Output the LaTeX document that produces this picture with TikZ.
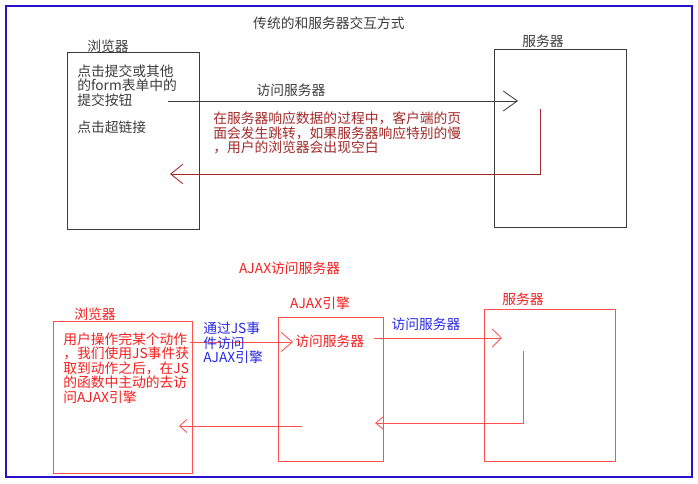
\documentclass[tikz,border=0pt]{standalone}
\usepackage{fontspec}
\setmainfont{Noto Sans CJK SC}
\usetikzlibrary{arrows.meta}
\definecolor{xFrame}{RGB}{40,20,200}
\definecolor{xGray}{RGB}{60,60,60}
\definecolor{xDark}{RGB}{160,40,40}
\definecolor{xRed}{RGB}{255,80,80}
\definecolor{xRedT}{RGB}{245,30,30}
\definecolor{xBlue}{RGB}{40,40,230}
\tikzset{
  txt/.style={font=\fontsize{9.8}{10.4}\selectfont, inner sep=0pt},
  blk/.style={txt, align=left, anchor=west},
  panel/.style={draw=xGray, line width=0.6pt, inner sep=0pt},
  rpanel/.style={draw=xRed, line width=0.6pt, inner sep=0pt},
  go/.style={-{Straight Barb[length=3.5mm, width=5mm]}, line width=0.6pt},
  back/.style={-{Straight Barb[length=3mm, width=4.8mm]}, line width=0.6pt},
}

\begin{document}
\begin{tikzpicture}
    \useasboundingbox (0,0) rectangle (17.45,-12.1);
    \draw[xFrame, line width=1.4pt] (0.15,-0.15) rectangle (17.3,-11.925);
    \node[txt, xGray] (title) at (8.225,-0.575) {传统的和服务器交互方式};

    % traditional request
    \node[panel, minimum width=3.3cm, minimum height=4.425cm] (br) at (3.325,-3.5125) {};
    \node[txt, xGray] (brl) at (2.7,-1.15) {浏览器};
    \node[blk, xGray] (brt) at (1.925,-2.475) {点击提交或其他\\的form表单中的\\提交按钮\\[9pt]点击超链接};
    \node[panel, minimum width=3.3cm, minimum height=4.45cm] (sv) at (14.0,-3.45) {};
    \node[txt, xGray] (svl) at (13.575,-1.025) {服务器};
    \coordinate (brout) at (4.2,-2.525);
    \coordinate (svin) at (12.95,-2.525);
    \coordinate (svout) at (13.5,-2.725);
    \coordinate (brin) at (4.25,-4.35);
    \draw[go, xGray] (brout) -- (svin);
    \node[txt, xGray] (ask) at (7.275,-2.25) {访问服务器};
    \draw[back, xDark] (svout) |- (brin);
    \node[blk, xDark] (wait) at (5.325,-3.325)
      {在服务器响应数据的过程中，客户端的页\\面会发生跳转，如果服务器响应特别的慢\\，用户的浏览器会出现空白};

    % ajax request
    \node[txt, xRedT] (sub) at (7.24,-6.7) {AJAX访问服务器};
    \node[rpanel, minimum width=3.475cm, minimum height=3.8cm] (br2) at (3.0625,-9.925) {};
    \node[txt, xRedT] (br2l) at (2.375,-7.85) {浏览器};
    \node[blk, xRedT] (br2t) at (1.575,-9.2)
      {用户操作完某个动作\\，我们使用JS事件获\\取到动作之后，在JS\\的函数中主动的去访\\问AJAX引擎};
    \node[rpanel, minimum width=2.625cm, minimum height=3.6cm] (aj) at (8.2625,-9.725) {};
    \node[txt, xRedT] (ajl) at (8.0,-7.575) {AJAX引擎};
    \node[blk, xRedT] (ajt) at (7.375,-8.525) {访问服务器};
    \node[rpanel, minimum width=3.275cm, minimum height=3.8cm] (sv2) at (13.7375,-9.625) {};
    \node[txt, xRedT] (sv2l) at (13.075,-7.475) {服务器};

    \coordinate (br2out) at (4.75,-8.55);
    \coordinate (ajin) at (7.325,-8.55);
    \coordinate (ajout) at (9.35,-8.45);
    \coordinate (sv2in) at (12.55,-8.45);
    \coordinate (sv2out) at (13.075,-8.775);
    \coordinate (ajback) at (9.375,-10.575);
    \coordinate (ajret) at (7.55,-10.65);
    \coordinate (br2in) at (4.475,-10.65);
    \draw[go, xRed, -{Straight Barb[length=2.8mm, width=4.8mm]}] (br2out) -- (ajin);
    \node[blk, xBlue] (js) at (5.075,-8.575) {通过JS事\\件访问\\AJAX引擎};
    \draw[go, xRed, -{Straight Barb[length=2.3mm, width=4.5mm]}] (ajout) -- (sv2in);
    \node[txt, xBlue] (ask2) at (10.65,-8.1) {访问服务器};
    \draw[back, xRed, -{Straight Barb[length=2mm, width=3.3mm]}] (sv2out) |- (ajback);
    \draw[back, xRed, -{Straight Barb[length=1.8mm, width=3.3mm]}] (ajret) -- (br2in);
  \end{tikzpicture}
\end{document}
